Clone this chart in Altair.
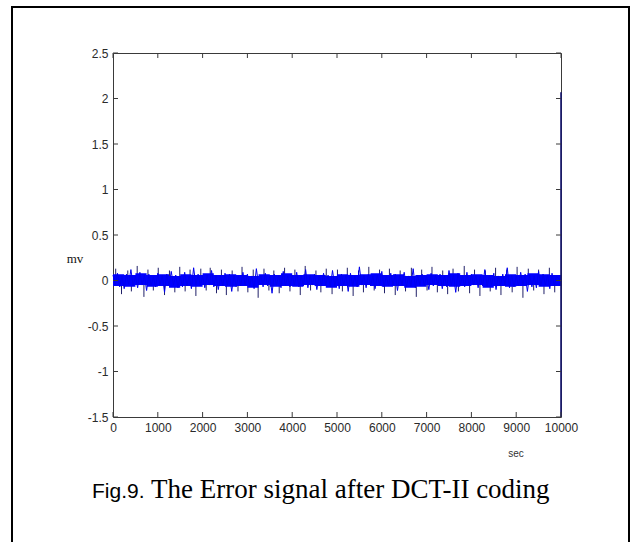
import altair as alt
import pandas as pd

# ---- data ----
noise = [
    0.06, -0.05, 0.08, -0.07, 0.05, -0.09, 0.07, -0.04, 0.12, -0.06, 0.05, -0.08, 0.09, -0.05, 0.06, -0.11, 0.07, -0.06, 0.04, -0.07,
    0.08, -0.05, 0.06, -0.13, 0.07, -0.06, 0.10, -0.05, 0.06, -0.08, 0.05, -0.07, 0.09, -0.06, 0.05, -0.09, 0.14, -0.05, 0.07, -0.06,
    0.05, -0.08, 0.06, -0.05, 0.11, -0.07, 0.06, -0.10, 0.05, -0.06, 0.08, -0.05, 0.07, -0.12, 0.06, -0.07, 0.05, -0.06, 0.09, -0.05,
    0.07, -0.06, 0.05, -0.09, 0.13, -0.05, 0.06, -0.07, 0.08, -0.06, 0.05, -0.14, 0.07, -0.05, 0.06, -0.08, 0.10, -0.06, 0.05, -0.07,
    0.06, -0.05, 0.09, -0.07, 0.05, -0.06, 0.12, -0.08, 0.06, -0.05, 0.07, -0.10, 0.05, -0.06, 0.08, -0.05, 0.06, -0.07, 0.11, -0.06,
    0.05, -0.09, 0.07, -0.05, 0.06, -0.12, 0.08, -0.06, 0.05, -0.07, 0.15, -0.05, 0.06, -0.08, 0.07, -0.06, 0.05, -0.09, 0.06, -0.05,
    0.10, -0.07, 0.05, -0.06, 0.08, -0.05, 0.07, -0.11, 0.06, -0.05, 0.09, -0.07, 0.05, -0.06, 0.13, -0.08, 0.06, -0.05, 0.07, -0.06,
    0.05, -0.10, 0.08, -0.06, 0.06, -0.05, 0.07, -0.09, 0.05, -0.07, 0.11, -0.06, 0.06, -0.13, 0.08, -0.05, 0.05, -0.07, 0.09, -0.06,
    0.07, -0.05, 0.06, -0.08, 0.05, -0.06, 0.12, -0.07, 0.06, -0.05, 0.08, -0.10, 0.05, -0.06, 0.07, -0.05, 0.14, -0.08, 0.06, -0.07,
    0.05, -0.06, 0.09, -0.05, 0.07, -0.12, 0.06, -0.07, 0.05, -0.08, 0.10, -0.06, 0.07, -0.05, 0.06, -0.09, 0.08, -0.06, 0.05, 0.02,
]
sample_step = 50

band_step = 250
band_hi = [0.07, 0.06, 0.08, 0.06, 0.07, 0.05, 0.07, 0.06, 0.08, 0.06, 0.07, 0.06, 0.05, 0.07, 0.06, 0.08, 0.06, 0.07, 0.06, 0.05,
           0.07, 0.06, 0.07, 0.08, 0.06, 0.07, 0.05, 0.06, 0.07, 0.06, 0.08, 0.06, 0.07, 0.06, 0.05, 0.07, 0.06, 0.08, 0.07, 0.06, 0.07]
band_lo = [-0.06, -0.07, -0.05, -0.07, -0.06, -0.08, -0.06, -0.07, -0.05, -0.06, -0.07, -0.06, -0.08, -0.05, -0.07, -0.06, -0.07, -0.05, -0.06, -0.08,
           -0.06, -0.07, -0.05, -0.06, -0.07, -0.06, -0.08, -0.07, -0.05, -0.06, -0.07, -0.06, -0.05, -0.08, -0.06, -0.07, -0.06, -0.05, -0.07, -0.06, -0.08]

spike_x = [60, 190, 330, 410, 540, 690, 780, 900, 1010, 1150, 1260, 1380, 1490, 1610, 1720, 1850, 1960, 2080, 2170, 2310,
           2420, 2530, 2660, 2790, 2880, 3010, 3130, 3240, 3370, 3480, 3590, 3710, 3830, 3950, 4060, 4180, 4290, 4410, 4530, 4640,
           4760, 4890, 5010, 5120, 5230, 5360, 5480, 5590, 5710, 5830, 5950, 6060, 6170, 6300, 6410, 6530, 6660, 6770, 6890, 7010,
           7120, 7240, 7360, 7470, 7590, 7710, 7840, 7960, 8070, 8190, 8310, 8420, 8540, 8660, 8790, 8910, 9020, 9150, 9270, 9390,
           9500, 9620, 9740, 9860]
spike_v = [0.13, -0.15, 0.11, -0.12, 0.16, -0.18, 0.12, -0.11, 0.14, -0.16,
           0.11, -0.13, 0.15, -0.12, 0.12, -0.17, 0.13, -0.11, 0.14, -0.14,
           0.12, -0.16, 0.11, -0.12, 0.15, -0.13, 0.12, -0.19, 0.13, -0.11,
           0.11, -0.14, 0.14, -0.12, 0.12, -0.16, 0.16, -0.11, 0.11, -0.13,
           0.13, -0.15, 0.12, -0.12, 0.14, -0.17, 0.11, -0.13, 0.15, -0.11,
           0.12, -0.14, 0.13, -0.16, 0.11, -0.12, 0.14, -0.18, 0.12, -0.11,
           0.15, -0.13, 0.11, -0.15, 0.13, -0.12, 0.16, -0.14, 0.12, -0.17,
           0.11, -0.12, 0.14, -0.16, 0.12, -0.13, 0.15, -0.19, 0.13, -0.11,
           0.12, -0.15, 0.14, -0.13]

end_t = 10000
end_peak = 2.07
end_low = -1.5

x_ticks = [0, 1000, 2000, 3000, 4000, 5000, 6000, 7000, 8000, 9000, 10000]
y_ticks = [-1.5, -1, -0.5, 0, 0.5, 1, 1.5, 2, 2.5]

x_label = "sec"
y_label = "mv"
caption_a = "Fig.9."
caption_b = "The Error signal after DCT-II coding"

# ---- layout ----
W, H = 448, 364
PAD_L, PAD_T, PAD_R, PAD_B = 113, 53, 72, 125

sig_t = [i * sample_step for i in range(len(noise))] + [end_t]
sig_v = noise + [0.0]
sig = pd.DataFrame({"t": sig_t, "v": sig_v})
band = pd.DataFrame({"t": [i * band_step for i in range(len(band_hi))], "lo": band_lo, "hi": band_hi})
spikes = pd.DataFrame({"t": spike_x, "v": spike_v, "z": [0.0] * len(spike_x)})
endspike = pd.DataFrame({"t": [end_t], "lo": [end_low], "hi": [end_peak]})
xt = pd.DataFrame({"t": x_ticks})
yt = pd.DataFrame({"v": y_ticks})
one = pd.DataFrame({"a": [0]})

xs = alt.Scale(domain=[0, 10000], nice=False, zero=False)
ys = alt.Scale(domain=[-1.5, 2.5], nice=False, zero=False)

SANS = "Liberation Sans"
SERIF = "Liberation Serif"
AX = "#3a3a3a"

x_axis = alt.Axis(values=x_ticks, labelExpr="toString(datum.value)", ticks=False, domain=False,
                  grid=False, labelFont=SANS, labelFontSize=12, labelColor="#2a2a2a",
                  labelPadding=5, labelFlush=False, labelOverlap=False, title=None)
y_axis = alt.Axis(values=y_ticks, labelExpr="toString(datum.value)", ticks=False, domain=False,
                  grid=False, labelFont=SANS, labelFontSize=12, labelColor="#2a2a2a",
                  labelPadding=5, labelFlush=False, labelOverlap=False, title=None)


def X(field):
    return alt.X(field, type="quantitative", scale=xs, axis=x_axis)


def Y(field):
    return alt.Y(field, type="quantitative", scale=ys, axis=y_axis)


spike_layer = alt.Chart(spikes).mark_rule(color="#202068", strokeWidth=1).encode(
    x=X("t"), y=Y("v"), y2="z:Q")

band_layer = alt.Chart(band).mark_area(color="#0000ff", interpolate="step-after").encode(
    x=X("t"), y=Y("lo"), y2="hi:Q")

line = alt.Chart(sig).mark_line(color="#0000ee", strokeWidth=1).encode(
    x=X("t"), y=Y("v"))

end_layer = alt.Chart(endspike).mark_rule(color="#14146e", strokeWidth=1.6).encode(
    x=X("t"), y=Y("lo"), y2="hi:Q")

tick_b = alt.Chart(xt).mark_rule(color=AX).encode(x=X("t"), y=alt.value(H), y2=alt.value(H - 5))
tick_t = alt.Chart(xt).mark_rule(color=AX).encode(x=X("t"), y=alt.value(0), y2=alt.value(5))
tick_l = alt.Chart(yt).mark_rule(color=AX).encode(y=Y("v"), x=alt.value(0), x2=alt.value(5))
tick_r = alt.Chart(yt).mark_rule(color=AX).encode(y=Y("v"), x=alt.value(W), x2=alt.value(W - 5))

mv_text = alt.Chart(one).mark_text(font=SERIF, fontSize=13, color="#111111", align="center",
                                   baseline="middle").encode(
    x=alt.value(75 - PAD_L), y=alt.value(259 - PAD_T), text=alt.value(y_label))
sec_text = alt.Chart(one).mark_text(font=SANS, fontSize=10, color="#333333", align="center",
                                    baseline="middle").encode(
    x=alt.value(516 - PAD_L), y=alt.value(454 - PAD_T), text=alt.value(x_label))

cap_a = alt.Chart(one).mark_text(font=SANS, fontSize=21, color="#000000", align="left",
                                 baseline="alphabetic").encode(
    x=alt.value(92 - PAD_L), y=alt.value(498 - PAD_T), text=alt.value(caption_a))
cap_b = alt.Chart(one).mark_text(font=SERIF, fontSize=27, color="#000000", align="left",
                                 baseline="alphabetic").encode(
    x=alt.value(151 - PAD_L), y=alt.value(498 - PAD_T), text=alt.value(caption_b))

frame = alt.Chart(one).mark_rect(fillOpacity=0, stroke="#000000", strokeWidth=2).encode(
    x=alt.value(12 - PAD_L), x2=alt.value(629 - PAD_L),
    y=alt.value(7 - PAD_T), y2=alt.value(560 - PAD_T))

chart = alt.layer(
    spike_layer, band_layer, line, end_layer, tick_b, tick_t, tick_l, tick_r,
    mv_text, sec_text, cap_a, cap_b, frame
).properties(
    width=W, height=H,
    padding={"left": PAD_L, "top": PAD_T, "right": PAD_R, "bottom": PAD_B},
    autosize=alt.AutoSizeParams(type="none"),
    background="#ffffff",
).configure_view(stroke=AX, strokeWidth=1)

chart.save("out.html", embed_options={"renderer": "svg", "actions": False})
